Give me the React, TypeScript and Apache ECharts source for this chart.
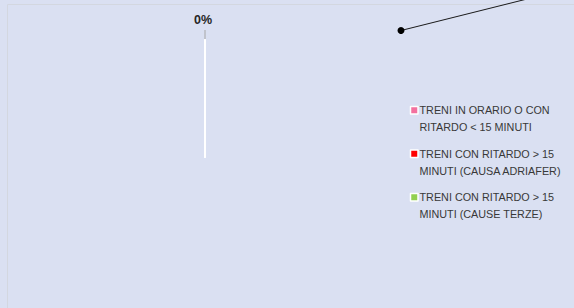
import React, { useEffect, useRef } from "react";
import * as echarts from "echarts";

const categories = [
  "TRENI IN ORARIO O CON RITARDO < 15 MINUTI",
  "TRENI CON RITARDO > 15 MINUTI (CAUSA ADRIAFER)",
  "TRENI CON RITARDO > 15 MINUTI (CAUSE TERZE)",
];
const legendLines = [
  "TRENI IN ORARIO O CON\nRITARDO < 15 MINUTI",
  "TRENI CON RITARDO > 15\nMINUTI (CAUSA ADRIAFER)",
  "TRENI CON RITARDO > 15\nMINUTI (CAUSE TERZE)",
];
const values = [100, 0, 0];
const colors = ["#f3719f", "#ff0000", "#92d050"];
const BG = "#dae0f2";

// legend marker drawn in the top part of a tall box so it sits on the first text line
const ICON = "path://M0,4.75H7.5V12.25H0Z M0,0 M0,34";

export default function App() {
  const ref = useRef<HTMLDivElement>(null);
  useEffect(() => {
    const chart = echarts.init(ref.current!, null, { renderer: "svg" });
    const option: any = {
      animation: false,
      backgroundColor: BG,
      graphic: [
        {
          type: "polyline",
          shape: { points: [[7.5, 308], [7.5, 4.5], [574, 4.5]] },
          style: { stroke: "#d3d7e0", lineWidth: 1, fill: null },
          silent: true,
        },
        {
          type: "line",
          shape: { x1: 401, y1: 30.5, x2: 527, y2: -1 },
          style: { stroke: "#1a1a1a", lineWidth: 1 },
          silent: true,
        },
        {
          type: "circle",
          shape: { cx: 401, cy: 30.5, r: 3.5 },
          style: { fill: "#000" },
          silent: true,
        },
      ],
      legend: {
        orient: "vertical",
        left: 404.75,
        top: 96,
        itemGap: 8,
        itemWidth: 7.5,
        itemHeight: 34,
        icon: ICON,
        data: categories.map((c, i) => ({
          name: c,
          icon: ICON,
          itemStyle: { color: colors[i], borderColor: "#ffffff", borderWidth: 1.5 },
        })),
        formatter: (name: string) => legendLines[categories.indexOf(name)],
        textStyle: {
          fontFamily: "Liberation Sans",
          fontSize: 10.8,
          color: "#383838",
          lineHeight: 17,
          padding: [0, 0, 0, -3.5],
        },
        selectedMode: false,
      },
      series: [
        {
          type: "pie",
          center: [205, 157],
          radius: 117,
          startAngle: 90,
          clockwise: true,
          avoidLabelOverlap: false,
          data: categories.map((c, i) => ({
            name: c,
            value: values[i],
            itemStyle:
              i === 0
                ? { color: "rgba(0,0,0,0)", borderWidth: 0 }
                : { color: colors[i], borderColor: "#ffffff", borderWidth: 2 },
            label: { show: i === 1 },
            labelLine: { show: i === 1 },
          })),
          label: {
            position: "outside",
            formatter: (p: any) => Math.round(p.percent) + "%",
            fontFamily: "Liberation Sans",
            fontWeight: "bold",
            fontSize: 12.5,
            color: "#262626",
          },
          labelLine: {
            length: 10,
            length2: 0,
            lineStyle: { color: "#a6a6a6", width: 1 },
          },
          labelLayout: (p: any) => ({ dx: -p.labelRect.width / 2 - 7, dy: -10 }),
        },
      ],
    };
    chart.setOption(option);
    return () => chart.dispose();
  }, []);
  return (
    <div
      ref={ref}
      style={{ position: "fixed", left: 0, top: 0, width: 574, height: 308 }}
    />
  );
}
